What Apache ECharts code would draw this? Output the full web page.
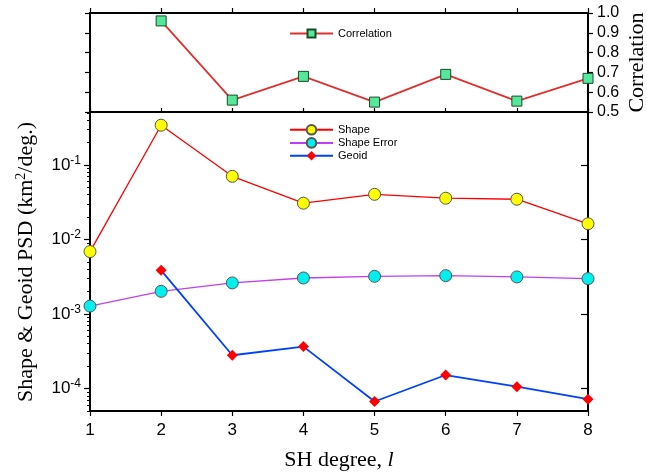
<!DOCTYPE html>
<html>
<head>
<meta charset="utf-8">
<script src="https://cdn.jsdelivr.net/npm/echarts@6/dist/echarts.min.js"></script>
<style>
  html, body { margin: 0; padding: 0; background: #fff; }
  #chart { width: 647px; height: 474px; }
</style>
</head>
<body>
<div id="chart"></div>
<script>
// values
const degrees = [1, 2, 3, 4, 5, 6, 7, 8];
const correlation = [null, 0.96, 0.56, 0.68, 0.55, 0.69, 0.555, 0.67];
const shape = [6.9e-3, 0.343, 0.0706, 0.0308, 0.0405, 0.0359, 0.0348, 0.0163];
const shapeError = [1.28e-3, 2.02e-3, 2.62e-3, 3.05e-3, 3.21e-3, 3.28e-3, 3.15e-3, 2.99e-3];
const geoid = [null, 3.86e-3, 2.8e-4, 3.66e-4, 6.7e-5, 1.52e-4, 1.06e-4, 7.2e-5];

const psdMajor = [1e-4, 1e-3, 1e-2, 1e-1];
const psdMinor = [];
for (const d of [1e-5, 1e-4, 1e-3, 1e-2, 1e-1]) {
  for (let k = 2; k <= 9; k++) {
    const v = +(k * d).toPrecision(3);
    if (v >= 5e-5 && v <= 0.5) psdMinor.push(v);
  }
}

function pairs(ys) {
  const out = [];
  degrees.forEach((d, i) => { if (ys[i] != null) out.push([d, ys[i]]); });
  return out;
}

const sans = 'Liberation Sans';
const serif = 'Liberation Serif';
const black = { color: '#000', width: 2 };

const chart = echarts.init(document.getElementById('chart'));
chart.setOption({
  animation: false,
  backgroundColor: '#fff',
  grid: [
    { left: 90, right: 59, top: 13, height: 99, outerBoundsMode: 'none', containLabel: false },
    { left: 90, right: 59, top: 113, height: 298, outerBoundsMode: 'none', containLabel: false }
  ],
  legend: [
    {
      data: ['Correlation'],
      left: 284, top: 23,
      itemWidth: 43, itemHeight: 10, itemGap: 4,
      textStyle: { fontFamily: sans, fontSize: 11, color: '#000' }
    },
    {
      data: ['Shape', 'Shape Error', 'Geoid'],
      orient: 'vertical',
      left: 284, top: 119,
      itemWidth: 43, itemHeight: 12, itemGap: 1.5,
      textStyle: { fontFamily: sans, fontSize: 11, color: '#000' }
    }
  ],
  xAxis: [
    {
      gridIndex: 0, type: 'value', position: 'top', min: 1, max: 8, interval: 1,
      axisLine: { lineStyle: black },
      axisTick: { inside: false, length: 5, lineStyle: { color: '#000', width: 1.2 } },
      axisLabel: { show: false }, splitLine: { show: false }
    },
    {
      gridIndex: 0, type: 'value', position: 'bottom', min: 1, max: 8, interval: 1,
      axisLine: { lineStyle: black },
      axisTick: { inside: true, length: 4, lineStyle: { color: '#000', width: 1.2 } },
      axisLabel: { show: false }, splitLine: { show: false }
    },
    {
      gridIndex: 1, type: 'value', position: 'bottom', min: 1, max: 8, interval: 1,
      axisLine: { lineStyle: black },
      axisTick: { inside: false, length: 5, lineStyle: { color: '#000', width: 1.2 } },
      axisLabel: { fontFamily: sans, fontSize: 17, color: '#000', margin: 11 },
      splitLine: { show: false },
      name: 'SH degree, {i|l}',
      nameLocation: 'middle', nameGap: 38,
      nameTextStyle: {
        fontFamily: serif, fontSize: 22, color: '#000',
        rich: { i: { fontFamily: serif, fontSize: 22, fontStyle: 'italic', color: '#000' } }
      }
    },
    {
      gridIndex: 1, type: 'value', position: 'top', min: 1, max: 8, interval: 1,
      axisLine: { show: false }, axisTick: { show: false },
      axisLabel: { show: false }, splitLine: { show: false }
    }
  ],
  yAxis: [
    {
      gridIndex: 0, type: 'value', position: 'right', min: 0.5, max: 1.0, interval: 0.1,
      axisLine: { lineStyle: black },
      axisTick: { inside: false, length: 5, lineStyle: { color: '#000', width: 1.2 } },
      axisLabel: {
        fontFamily: sans, fontSize: 16, color: '#000', margin: 9,
        formatter: v => v.toFixed(1)
      },
      splitLine: { show: false },
      name: 'Correlation', nameLocation: 'middle', nameRotate: 90, nameGap: 38,
      nameMoveOverlap: false,
      nameTextStyle: { fontFamily: serif, fontSize: 22, color: '#000' }
    },
    {
      gridIndex: 0, type: 'value', position: 'left', min: 0.5, max: 1.0, interval: 0.1,
      axisLine: { lineStyle: black },
      axisTick: { inside: false, length: 5, lineStyle: { color: '#000', width: 1.2 } },
      axisLabel: { show: false }, splitLine: { show: false }
    },
    {
      gridIndex: 1, type: 'log', logBase: 10, position: 'left', min: 5e-5, max: 0.5,
      axisLine: { lineStyle: black },
      axisTick: { customValues: psdMajor, length: 6, lineStyle: { color: '#000', width: 1.2 } },
      axisLabel: {
        customValues: psdMajor,
        fontFamily: sans, fontSize: 17, color: '#000', margin: 9,
        formatter: v => '10{s|' + Math.round(Math.log10(v)) + '}',
        rich: { s: { fontFamily: sans, fontSize: 12, color: '#000', padding: [0, 0, 9, 0] } }
      },
      splitLine: { show: false },
      name: 'Shape & Geoid PSD (km{s|2}/deg.)',
      nameLocation: 'middle', nameRotate: 90, nameGap: 52,
      nameTextStyle: {
        fontFamily: serif, fontSize: 22, color: '#000',
        rich: { s: { fontFamily: serif, fontSize: 14, color: '#000', padding: [0, 0, 10, 0] } }
      }
    },
    {
      // minor log ticks (2..9 x 10^n)
      gridIndex: 1, type: 'log', logBase: 10, position: 'left', min: 5e-5, max: 0.5,
      axisLine: { show: true, lineStyle: black },
      axisTick: { show: true, customValues: psdMinor, length: 3, lineStyle: { color: '#000', width: 1 } },
      axisLabel: { show: false }, splitLine: { show: false }
    },
    {
      gridIndex: 1, type: 'log', logBase: 10, position: 'right', min: 5e-5, max: 0.5,
      axisLine: { lineStyle: black },
      axisTick: { customValues: psdMajor, inside: true, length: 7, lineStyle: { color: '#000', width: 1.2 } },
      axisLabel: { show: false }, splitLine: { show: false }
    }
  ],
  series: [
    {
      name: 'Correlation', type: 'line', xAxisIndex: 0, yAxisIndex: 0,
      data: pairs(correlation), clip: false,
      symbol: 'rect', symbolSize: 10,
      lineStyle: { color: '#e03030', width: 1.8 },
      itemStyle: { color: '#55e89a', borderColor: '#1a4a2a', borderWidth: 1 },
      z: 5
    },
    {
      name: 'Shape', type: 'line', xAxisIndex: 2, yAxisIndex: 2,
      data: pairs(shape), clip: false,
      symbol: 'circle', symbolSize: 12,
      lineStyle: { color: '#ff0000', width: 1.3 },
      itemStyle: { color: '#ffff00', borderColor: '#555', borderWidth: 1 },
      z: 5
    },
    {
      name: 'Shape Error', type: 'line', xAxisIndex: 2, yAxisIndex: 2,
      data: pairs(shapeError), clip: false,
      symbol: 'circle', symbolSize: 12,
      lineStyle: { color: '#c040f0', width: 1.3 },
      itemStyle: { color: '#00f0f0', borderColor: '#555', borderWidth: 1 },
      z: 5
    },
    {
      name: 'Geoid', type: 'line', xAxisIndex: 2, yAxisIndex: 2,
      data: pairs(geoid), clip: false,
      symbol: 'diamond', symbolSize: [11, 11],
      lineStyle: { color: '#0040ff', width: 1.8 },
      itemStyle: { color: '#ff0000', borderColor: '#ff0000', borderWidth: 0 },
      z: 5
    }
  ]
});
</script>
</body>
</html>
